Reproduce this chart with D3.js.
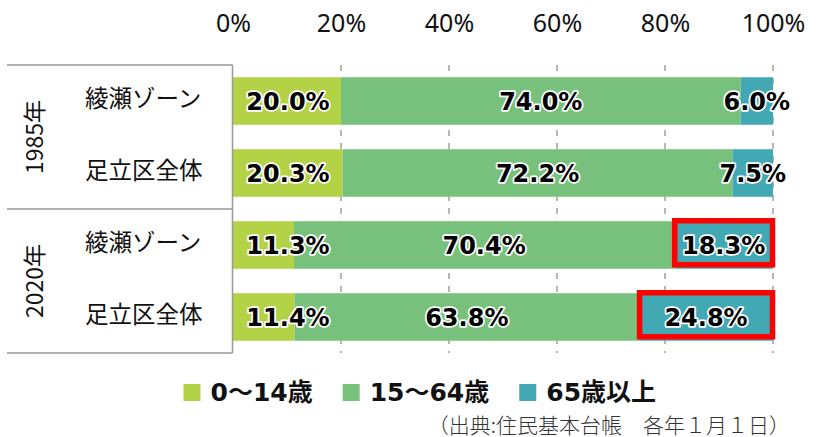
<!DOCTYPE html>
<html><head><meta charset="utf-8">
<script src="https://cdn.jsdelivr.net/npm/d3@7"></script>
<style>
html,body{margin:0;padding:0;background:#fff;}
svg{display:block;}
</style></head>
<body>
<svg id="chart" width="816" height="437"></svg>
<script>
// ---- data ----
const categories = ["綾瀬ゾーン", "足立区全体", "綾瀬ゾーン", "足立区全体"];
const years = ["1985年", "2020年"];
const yearOfRow = [0, 0, 1, 1];
const seriesNames = ["0～14歳", "15～64歳", "65歳以上"];
const age0to14 = [20.0, 20.3, 11.3, 11.4];
const age15to64 = [74.0, 72.2, 70.4, 63.8];
const age65plus = [6.0, 7.5, 18.3, 24.8];
const highlightRows = [false, false, true, true]; // 65歳以上 boxed in red
const tickValues = [0, 20, 40, 60, 80, 100];
const tickLabels = ["0%", "20%", "40%", "60%", "80%", "100%"];
const colors = ["#b4d245", "#78c17c", "#42a8b4"];

const svg = d3.select("#chart");
const plotLeft = 233, plotRight = 773, plotTop = 65, plotBottom = 353;

const x = d3.scaleLinear().domain([0, 100]).range([plotLeft, plotRight]);
const y = d3.scaleBand().domain(d3.range(categories.length)).range([plotTop, plotBottom]).paddingInner(0.34).paddingOuter(0.17);
const yBand = d3.scaleBand().domain(d3.range(categories.length)).range([plotTop, plotBottom]);

// stacked data
const rows = categories.map((c, i) => ({i, v: [age0to14[i], age15to64[i], age65plus[i]]}));
const stack = d3.stack().keys([0, 1, 2]).value((d, k) => d.v[k]);
const stacked = stack(rows);

// gridlines (dashed)
svg.append("g").selectAll("line").data(tickValues.filter(t => t > 0)).join("line")
  .attr("x1", d => x(d)).attr("x2", d => x(d))
  .attr("y1", plotTop).attr("y2", plotBottom)
  .attr("stroke", "#999").attr("stroke-width", 1.4).attr("stroke-dasharray", "6,7");

// top axis labels
const axis = d3.axisTop(x).tickValues(tickValues).tickFormat((d, i) => tickLabels[i]).tickSize(0).tickPadding(0);
const gAxis = svg.append("g").attr("transform", "translate(0,31.5)").call(axis);
gAxis.select(".domain").remove();
gAxis.selectAll("text").attr("font-family", "'Noto Sans', sans-serif").attr("font-size", 25).attr("fill", "#111").attr("dy", 0);

// bars
const gBars = svg.append("g");
stacked.forEach((layer, k) => {
  gBars.selectAll(null).data(layer).join("rect")
    .attr("x", d => x(d[0])).attr("width", d => x(d[1]) - x(d[0]))
    .attr("y", d => y(d.data.i)).attr("height", y.bandwidth())
    .attr("fill", colors[k]);
});

// red highlight boxes
const boxLayer = stacked[2];
svg.append("g").selectAll("rect").data(boxLayer.filter(d => highlightRows[d.data.i])).join("rect")
  .attr("x", d => x(d[0]) + 0.5).attr("width", d => x(d[1]) - x(d[0]) - 1)
  .attr("y", d => y(d.data.i) - 0.5).attr("height", y.bandwidth() - 3.5)
  .attr("fill", "none").attr("stroke", "#ff0000").attr("stroke-width", 5.5);

// value labels
const gLab = svg.append("g");
stacked.forEach((layer, k) => {
  gLab.selectAll(null).data(layer).join("text")
    .attr("x", d => {
      const c = (x(d[0]) + x(d[1])) / 2;
      return k === 0 ? Math.max(c, x(0) + 55) : c;
    })
    .attr("y", d => y(d.data.i) + y.bandwidth() / 2)
    .attr("dy", "0.36em")
    .attr("text-anchor", "middle")
    .attr("font-family", "'DejaVu Sans', sans-serif").attr("font-weight", "bold").attr("font-size", 24)
    .attr("fill", "#000").attr("stroke", "#fff").attr("stroke-width", 3.5).attr("stroke-linejoin", "round")
    .attr("paint-order", "stroke")
    .text(d => d.data.v[k].toFixed(1) + "%");
});

// left table
const gT = svg.append("g");
const lineColor = "#999";
[plotTop, (plotTop + plotBottom) / 2, plotBottom].forEach(yy => {
  gT.append("line").attr("x1", 7).attr("x2", plotLeft - 0.5).attr("y1", yy).attr("y2", yy)
    .attr("stroke", lineColor).attr("stroke-width", 1.5);
});
gT.append("line").attr("x1", plotLeft - 0.5).attr("x2", plotLeft - 0.5).attr("y1", plotTop).attr("y2", plotBottom)
  .attr("stroke", lineColor).attr("stroke-width", 1.5);

gT.selectAll("text.cat").data(categories).join("text").attr("class", "cat")
  .attr("x", 85).attr("y", (d, i) => yBand(i) + yBand.bandwidth() / 2 - 4)
  .attr("dominant-baseline", "central")
  .attr("font-family", "'Noto Sans CJK JP', sans-serif").attr("font-size", 23.5).attr("fill", "#111")
  .text(d => d);

years.forEach((yr, j) => {
  const idx = yearOfRow.map((v, i) => v === j ? i : -1).filter(i => i >= 0);
  const y0 = yBand(idx[0]), y1 = yBand(idx[idx.length - 1]) + yBand.bandwidth();
  const cy = (y0 + y1) / 2;
  gT.append("text").attr("transform", `translate(33,${cy}) rotate(-90)`)
    .attr("text-anchor", "middle").attr("dominant-baseline", "central")
    .attr("font-family", "'Noto Sans CJK JP', sans-serif").attr("font-size", 23).attr("fill", "#111")
    .text(yr);
});

// legend
const gL = svg.append("g");
let lx = 183.5;
seriesNames.forEach((name, k) => {
  gL.append("rect").attr("x", lx).attr("y", 384).attr("width", 17).attr("height", 17).attr("fill", colors[k]);
  const t = gL.append("text").attr("x", lx + 27).attr("y", 392.5).attr("dominant-baseline", "central")
    .attr("font-family", "'DejaVu Sans', 'Noto Sans CJK JP', sans-serif").attr("font-weight", "bold")
    .attr("font-size", 25).attr("fill", "#111").text(name);
  const w = t.node().getComputedTextLength();
  lx = lx + 27 + w + 30;
});

// source note
svg.append("text").attr("x", 790).attr("y", 423.5).attr("text-anchor", "end").attr("dominant-baseline", "central")
  .attr("font-family", "'Noto Sans CJK JP', sans-serif").attr("font-weight", 300).attr("font-size", 21).attr("fill", "#333")
  .text("（出典:住民基本台帳　各年１月１日）");
</script>
</body></html>
